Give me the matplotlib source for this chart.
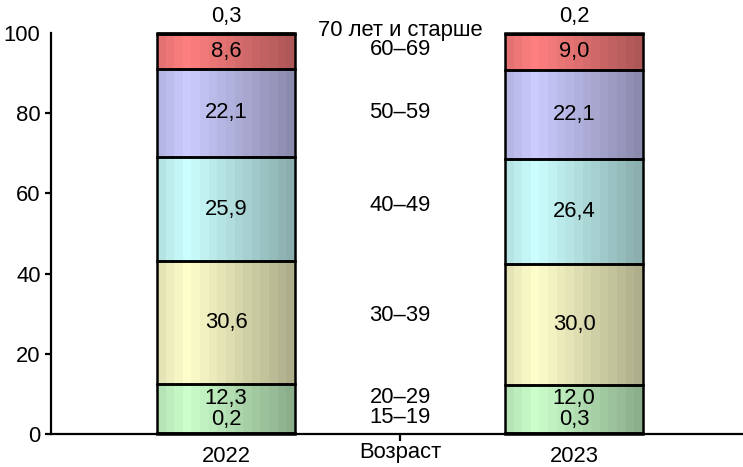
import numpy as np
import matplotlib.pyplot as plt
from matplotlib.colors import to_rgb

plt.rcParams['font.family'] = ['Liberation Sans', 'DejaVu Sans']
plt.rcParams['font.size'] = 15.8

years = ["2022", "2023"]
year_pos = [0, 2]
middle_pos = 1
middle_title = "Возраст"
groups = ["15–19", "20–29", "30–39", "40–49", "50–59", "60–69", "70 лет и старше"]
share_2022 = [0.2, 12.3, 30.6, 25.9, 22.1, 8.6, 0.3]
share_2023 = [0.3, 12.0, 30.0, 26.4, 22.1, 9.0, 0.2]
seg_colors = ["#CCFFCC", "#CCFFCC", "#FFFFCC", "#CCFFFF", "#CCCCFF", "#FF8080", "#8C8C8C"]

BAR_W = 0.79
# vertical nudges (data units) for the group names in the middle column
name_nudge = [4.0, 2.9, 1.9, 1.1, 0.3, 0.5, 0.8]


def shade_profile(n=16):
    t = (np.arange(n) + 0.5) / n
    return np.where(t < 0.22, 0.88 + 0.12 * t / 0.22, 1.0 - 0.33 * (t - 0.22) / 0.78)


def label_y(bottom, val, i, n):
    # small segments get their labels nudged apart, like the original
    if i == 0:
        return bottom + 3.5
    if i == 1:
        return bottom + val / 2 + 2.6
    if i == n - 1:
        return bottom + 4.3
    return bottom + val / 2


fig = plt.figure(figsize=(7.43, 4.67), dpi=100)
ax = fig.add_axes([51 / 743, 33 / 467, 692 / 743, 401 / 467])

prof = shade_profile()
for pos, shares in zip(year_pos, [share_2022, share_2023]):
    bottoms = np.concatenate([[0], np.cumsum(shares)[:-1]])
    bars = ax.bar(pos, shares, bottom=bottoms, width=BAR_W, facecolor='none',
                  edgecolor='black', linewidth=1.8, zorder=3, clip_on=False)
    n = len(shares)
    for i, (rect, val, b) in enumerate(zip(bars, shares, bottoms)):
        rgb = np.array(to_rgb(seg_colors[i]))
        img = (prof[:, None] * rgb[None, :])[None, :, :]
        x0, y0 = rect.get_x(), rect.get_y()
        ax.imshow(img, extent=[x0, x0 + rect.get_width(), y0, y0 + rect.get_height()],
                  aspect='auto', interpolation='nearest', zorder=2, clip_on=False)
        txt = f"{val:.1f}".replace('.', ',')
        ax.text(pos, label_y(b, val, i, n), txt, ha='center', va='center', zorder=4)

# age group names in the middle column
mean_shares = (np.array(share_2022) + np.array(share_2023)) / 2
mid_bottoms = np.concatenate([[0], np.cumsum(mean_shares)[:-1]])
for i, (g, val, b) in enumerate(zip(groups, mean_shares, mid_bottoms)):
    y = b + name_nudge[i] if i == 0 else b + val / 2 + name_nudge[i]
    ax.text(middle_pos, y, g, ha='center', va='center', zorder=4)

ax.set_xlim(-1.006, 2.971)
ax.set_ylim(0, 100)

ax.spines['top'].set_visible(False)
ax.spines['right'].set_visible(False)
ax.spines['left'].set_linewidth(1.6)
ax.spines['bottom'].set_linewidth(1.6)
ax.spines['left'].set_zorder(5)
ax.spines['bottom'].set_zorder(5)

ax.set_yticks(range(0, 101, 20))
ax.tick_params(axis='y', length=4.5, width=1.6, pad=3)
ax.yaxis.get_major_ticks()[-1].tick1line.set_visible(False)

ax.set_xticks([middle_pos], [middle_title])
ax.set_xticks(year_pos, years, minor=True)
ax.tick_params(axis='x', which='major', length=5, width=1.6, pad=0.5)
ax.tick_params(axis='x', which='minor', length=0, pad=9)

fig.savefig("out.png", dpi=100)
